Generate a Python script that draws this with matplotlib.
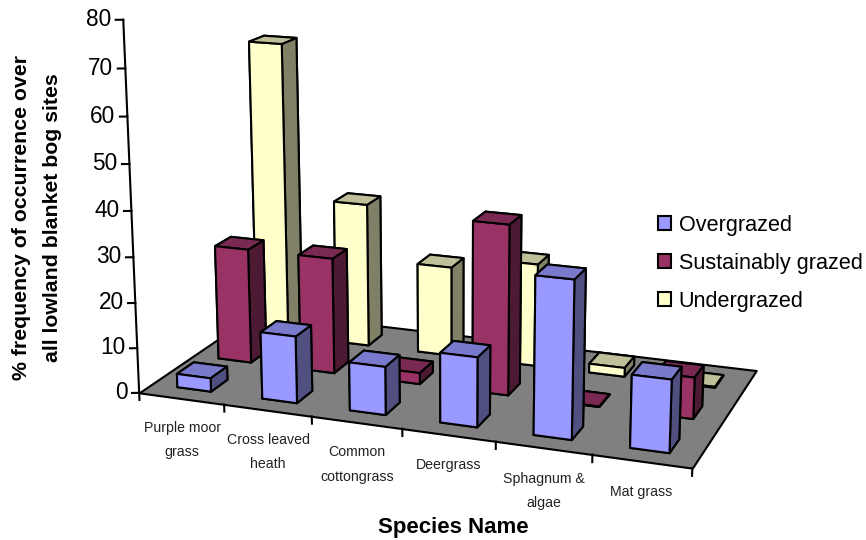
import numpy as np
import matplotlib
matplotlib.use('Agg')
import matplotlib.pyplot as plt
from mpl_toolkits.mplot3d.art3d import Poly3DCollection
from matplotlib.patches import Patch

plt.rcParams['font.family'] = ['Liberation Sans', 'DejaVu Sans']

categories = ['Purple moor\ngrass', 'Cross leaved\nheath', 'Common\ncottongrass', 'Deergrass', 'Sphagnum &\nalgae', 'Mat grass']
series_names = ['Overgrazed', 'Sustainably grazed', 'Undergrazed']
overgrazed = [3, 14.7, 10.5, 15, 33.5, 15.3]
sustainably = [26, 26, 2.5, 37.5, 0.1, 9]
undergrazed = [68, 33, 20.5, 23.3, 2, 0.2]
z_ticks = [0, 10, 20, 30, 40, 50, 60, 70, 80]

fig = plt.figure(figsize=(8.66, 5.40), dpi=100)
ax = fig.add_axes([259.3/866, 144.7/540, 376.1/866, 376.1/540], projection='3d')
ax.set_xlim(0, 6); ax.set_ylim(0, 3); ax.set_zlim(0, 80)
ax.set_proj_type('persp', focal_length=1)
ax.view_init(elev=15.078, azim=-69.844)
ax.set_box_aspect((6, 2.943, 4.002), zoom=np.exp(0.648))
ax.set_axis_off()
ax.patch.set_alpha(0)
ax.computed_zorder = False

ax.add_collection3d(Poly3DCollection([[(0,0,0),(6,0,0),(6,3,0),(0,3,0)]], facecolor='#808080', edgecolor='k', linewidth=1.5, zorder=0))
colors = {0:('#9999FF','#7A7ACC','#505080'), 1:('#993366','#7A2952','#4D1A33'), 2:('#FFFFCC','#BFBF99','#808066')}
vals = [overgrazed, sustainably, undergrazed]
bw = 0.4
z = 2
for j in (2,1,0):
    for i in range(6):
        fr, top, side = colors[j]
        ax.bar3d(i+.5-bw/2, j+.5-bw/2, 0, bw, bw, vals[j][i], color=[side, top, fr, fr, side, side], shade=False, edgecolor='k', linewidth=1.5, zorder=z)
        z += 1
ax.plot([0,0],[0,0],[0,80],'k',lw=1.5,zorder=1)
for t in z_ticks:
    ax.plot([-0.07,0],[-0.03,0],[t,t],'k',lw=1.5,zorder=1)
    ax.text(-0.12,-0.03,t,str(t),ha='right',va='center',fontsize=16.3,zorder=1)
for i in range(7):
    ax.plot([i,i],[0,0],[0,-1.6],'k',lw=1.5,zorder=1)
for i,c in enumerate(categories):
    ax.text(i+.5,0,-5,c,ha='center',va='top',fontsize=10.2,linespacing=1.95,color='#222222',zorder=1)
for c in ax.get_children():
    c.set_clip_on(False)
fig.text(37/866, 1-218/540, '% frequency of occurrence over\nall lowland blanket bog sites', rotation=90, ha='center', va='center', fontweight='bold', fontsize=15.3, linespacing=1.75)
fig.text(453/866, 1-527/540, 'Species Name', ha='center', va='center', fontweight='bold', fontsize=16)
handles = [Patch(facecolor=colors[j][0], edgecolor='k', linewidth=1.5, label=series_names[j]) for j in range(3)]
fig.legend(handles=handles, loc='upper left', bbox_to_anchor=(658/866, 1-215/540), frameon=False, fontsize=15.6, handlelength=.6, handleheight=.6, handletextpad=.35, labelspacing=.78, borderpad=0, borderaxespad=0)
fig.savefig('out.png', dpi=100)
